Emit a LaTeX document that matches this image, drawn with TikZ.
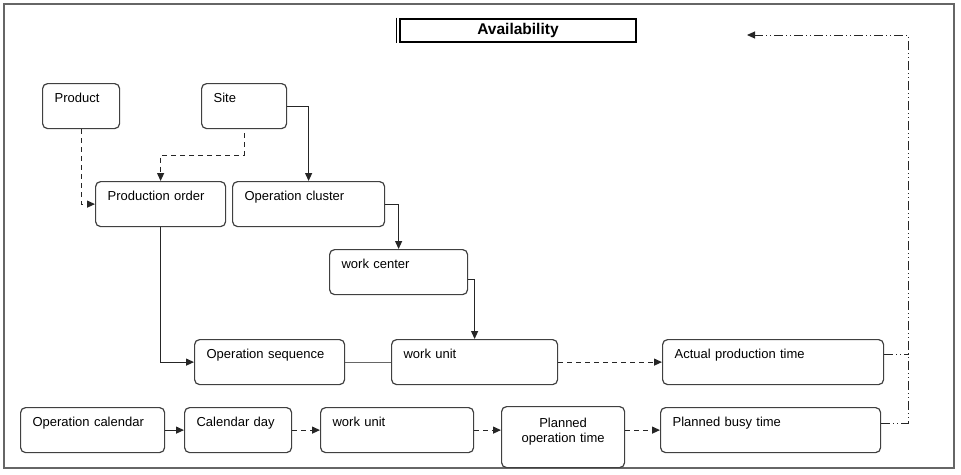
\documentclass[tikz,border=0pt]{standalone}
\usepackage{fontspec}
\setmainfont{Liberation Sans}
\usetikzlibrary{arrows.meta}

\begin{document}
\begin{tikzpicture}[x=1pt,y=-1pt,
  >={Triangle[length=8pt,width=7pt]},
  every node/.style={font=\fontsize{13}{15}\selectfont},
  blk/.style={draw=black!75, line width=1.2pt, rounded corners=5pt, anchor=north west,
    align=left, text width=#1, inner xsep=12pt, inner ysep=4pt,
    text height=14.7pt, text depth=22.3pt},
  blkc/.style={blk=#1, align=center, text height=16.5pt, text depth=36.5pt},
  title/.style={draw, line width=2pt, minimum width=236pt, minimum height=23pt,
    inner sep=0pt, font=\fontsize{15.5}{17}\selectfont\bfseries},
  link/.style={line width=1.2pt, black!85},
  dsh/.style={link, dash pattern=on 5pt off 4pt},
  ddot/.style={link, line width=1pt, dash pattern=on 9pt off 3pt on 1pt off 3pt on 1pt off 3pt}]
\useasboundingbox (0,0) rectangle (961,474);
\draw[black!60, line width=1.3pt] (4,4) rectangle (954,468);
% title
\node[title] (avail) at (518,30) {Availability};
\draw[line width=0.8pt] ([xshift=-3pt]avail.north west) -- ([xshift=-3pt]avail.south west);
% upper part
\node[blk=53pt] (prod) at (42,83) {Product};
\node[blk=61pt] (site) at (201,83) {Site};
\node[blk=106pt] (porder) at (95,181) {Production order};
\node[blk=128pt] (opclus) at (232,181) {Operation cluster};
\node[blk=114pt] (wcenter) at (329,249) {work center};
\node[blk=126pt] (opseq) at (194,339) {Operation sequence};
\node[blk=142pt] (wunit) at (391,339) {work unit};
\node[blk=197pt] (actual) at (662,339) {Actual production time};
% calendar row
\node[blk=120pt] (opcal) at (20,407) {Operation calendar};
\node[blk=83pt] (calday) at (184,407) {Calendar day};
\node[blk=129pt] (wunit2) at (320,407) {work unit};
\node[blkc=99pt] (planop) at (501,406) {Planned\\operation time};
\node[blk=196pt] (busy) at (660,407) {Planned busy time};
\coordinate (fb) at (908,35);
\coordinate (back) at (747,35);
% connectors
\draw[dsh,->] (prod.south) |- (porder.west);
\draw[dsh,->,shorten <=4pt] (site.south) -- ++(0,26) -| (porder.north);
\draw[link,->] (site.east) -| (opclus.north);
\draw[link,->] (opclus.east) -| (wcenter.north);
\draw[link,->] (porder.south) |- (opseq.west);
\draw[link,->] ([yshift=-7pt]wcenter.east) -| (wunit.north);
\draw[link,black!60] (opseq.east) -- (wunit.west);
\draw[dsh,->] (wunit.east) -- (actual.west);
\draw[link,->] (opcal.east) -- (calday.west);
\draw[dsh,->] (calday.east) -- (wunit2.west);
\draw[dsh,->] (wunit2.east) -- (wunit2.east -| planop.west);
\draw[dsh,->] (planop.east |- busy.west) -- (busy.west);
% feedback
\draw[ddot] ([yshift=8pt]actual.east) -- ++(25,0);
\draw[ddot,->] ([yshift=7pt]busy.east) -| (fb) -- (back);
\end{tikzpicture}
\end{document}
